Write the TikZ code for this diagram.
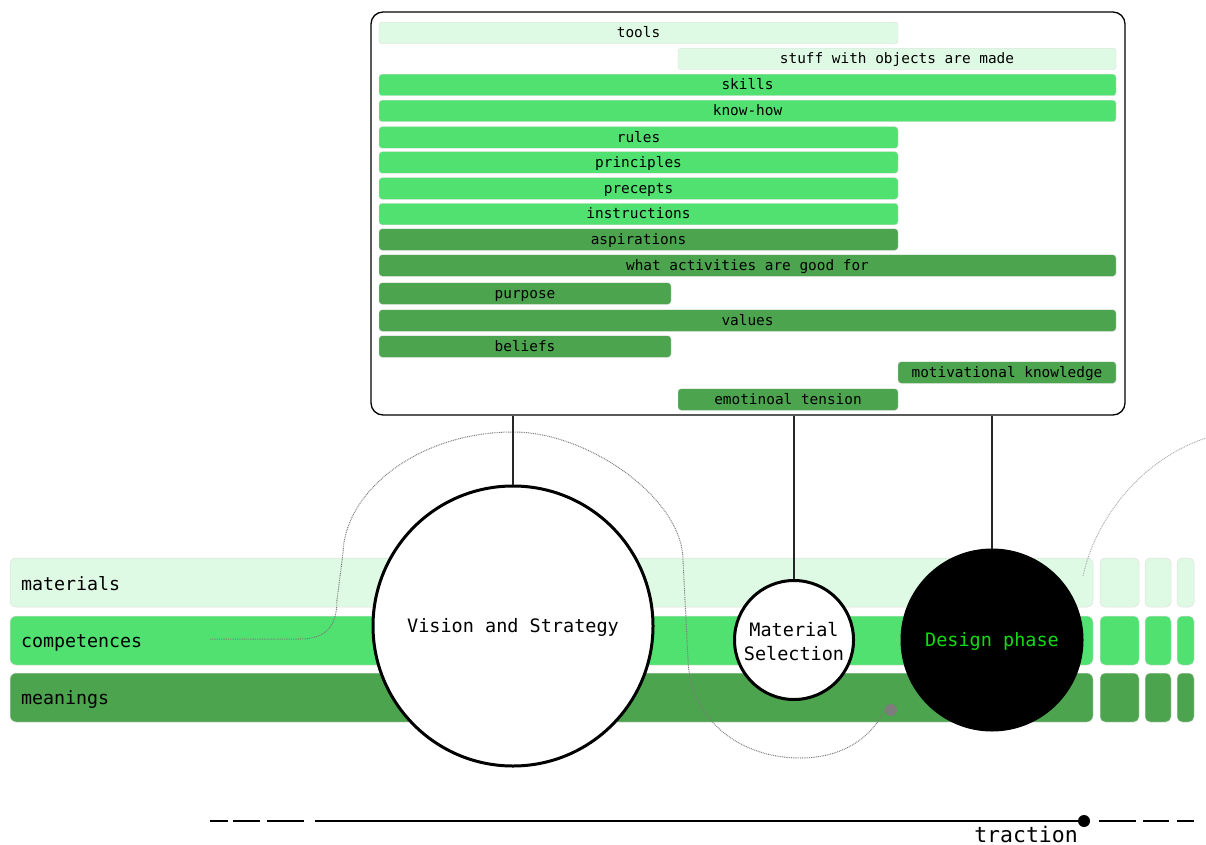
\documentclass[tikz,border=0pt]{standalone}
\usepackage{fontspec}
\newfontfamily\mono{DejaVu Sans Mono}
\definecolor{mlight}{RGB}{223,250,228}
\definecolor{mmid}{RGB}{80,225,112}
\definecolor{mdark}{RGB}{76,164,78}
\definecolor{dgreen}{RGB}{20,218,20}
\definecolor{curvegray}{RGB}{125,125,125}
\newcommand{\lowstrut}[1]{\rule{0pt}{#1}}
\begin{document}
\begin{tikzpicture}[x=1pt,y=-1pt,
  panel/.style={draw=black, line width=1.3pt, rounded corners=12pt, inner sep=0pt},
  tag/.style={rounded corners=3pt, draw=black!14, line width=0.4pt, inner sep=0pt,
    minimum height=21.5pt, font=\mono\fontsize{14.4}{16}\selectfont,
    text height=10.5pt, text depth=1pt},
  tlight/.style={tag, fill=mlight},
  tmid/.style={tag, fill=mmid},
  tdark/.style={tag, fill=mdark},
  layer/.style={rounded corners=6pt, draw=black!12, line width=0.5pt, inner ysep=0pt,
    inner xsep=11pt, minimum height=49pt, align=left,
    font=\mono\fontsize{18.3}{20}\selectfont},
  cell/.style={rounded corners=5pt, draw=black!12, line width=0.5pt, inner sep=0pt,
    minimum height=49pt},
  phase/.style={circle, draw=black, line width=3pt, fill=white, inner sep=0pt,
    font=\mono\fontsize{18.5}{24}\selectfont},
  oneline/.style={text height=14pt, text depth=2pt},
  link/.style={draw=black!85, line width=1.4pt},
  trail/.style={draw=curvegray, line width=1pt, dash pattern=on 0.9pt off 0.9pt},
  axis/.style={draw=black, line width=2.6pt},
  axisdot/.style={circle, fill=black, inner sep=0pt, minimum size=12pt}
]
\useasboundingbox (0,0) rectangle (1206,845);

% ---- knowledge panel ----
\node[panel, minimum width=754pt, minimum height=403pt] (panel) at (748,213.5) {};

\node[tlight, minimum width=519pt] (tools)        at (638.5,33)   {tools};
\node[tlight, minimum width=438pt] (stuff)        at (897,59)     {stuff with objects are made};
\node[tmid,   minimum width=737pt] (skills)       at (747.5,85)   {skills};
\node[tmid,   minimum width=737pt] (knowhow)      at (747.5,111)  {know-how};
\node[tmid,   minimum width=519pt] (rules)        at (638.5,137.5){rules};
\node[tmid,   minimum width=519pt] (principles)   at (638.5,162.5){principles};
\node[tmid,   minimum width=519pt] (precepts)     at (638.5,188.5){precepts};
\node[tmid,   minimum width=519pt] (instructions) at (638.5,214)  {instructions};
\node[tdark,  minimum width=519pt] (aspirations)  at (638.5,239.5){aspirations};
\node[tdark,  minimum width=737pt] (activities)   at (747.5,265.5){what activities are good for};
\node[tdark,  minimum width=292pt] (purpose)      at (525,293.5)  {purpose};
\node[tdark,  minimum width=737pt] (values)       at (747.5,320.5){values};
\node[tdark,  minimum width=292pt] (beliefs)      at (525,346.5)  {beliefs};
\node[tdark,  minimum width=218pt] (motivational) at (1007,372.5) {motivational knowledge};
\node[tdark,  minimum width=220pt] (tension)      at (788,399.5)  {emotinoal tension};

% ---- layers ----
\node[layer, fill=mlight, text width=1061pt] (materials)   at (551.5,582.5) {\lowstrut{17pt}materials};
\node[layer, fill=mmid,   text width=1061pt] (competences) at (551.5,640.5) {\lowstrut{17pt}competences};
\node[layer, fill=mdark,  text width=1061pt] (meanings)    at (551.5,697.5) {\lowstrut{17pt}meanings};

\foreach \r/\c/\y in {a/mlight/582.5, b/mmid/640.5, c/mdark/697.5}{
  \node[cell, fill=\c, minimum width=39pt] (cell1\r) at (1119.5,\y) {};
  \node[cell, fill=\c, minimum width=26pt] (cell2\r) at (1158,\y) {};
  \node[cell, fill=\c, minimum width=17pt] (cell3\r) at (1185.5,\y) {};
}

% ---- dotted trails ----
\coordinate (trailstart) at (210,639);
\node[circle, fill=curvegray, inner sep=0pt, minimum size=12pt] (trailend) at (891,710) {};
\draw[trail] (trailstart) -- (300,639)
  .. controls (327,639) and (337,625) .. (337,600)
  -- (343,553)
  .. controls (345,490) and (420,432) .. (513,432)
  .. controls (590,432) and (683,500) .. (683,560)
  -- (688,660)
  .. controls (690,720) and (740,758) .. (800,758)
  .. controls (840,758) and (872,740) .. (trailend.north west);

\coordinate (arcstart) at (1083,576);
\coordinate (arcend) at (1206,438);
\draw[trail, draw=black!32] (arcstart) .. controls (1095,520) and (1140,460) .. (arcend);

% ---- phases ----
\node[phase, oneline, minimum size=280pt] (vision) at (513,626) {Vision and Strategy};
\node[phase, align=center, minimum size=119pt] (selection) at (794,640) {\lowstrut{18pt}Material\\Selection};
\node[phase, oneline, fill=black, minimum size=180pt, text=dgreen] (design) at (992,640) {Design phase};

\draw[link] (panel.south -| vision.north) -- (vision.north);
\draw[link] (panel.south -| selection.north) -- (selection.north);
\draw[link] (panel.south -| design.north) -- (design.north);

% ---- traction axis ----
\node[axisdot] (tdot) at (1084,821) {};
\coordinate (tstart) at (315,821);
\draw[axis] (tstart) -- (tdot.center);
\foreach \a/\b in {210/228, 233/260, 267/304, 1099/1136, 1143/1169, 1177/1194}
  \draw[axis] (\a,821) -- (\b,821);
\node[anchor=base east, inner sep=0pt, font=\mono\fontsize{21.5}{24}\selectfont] (traction) at (1078,842) {traction};
\end{tikzpicture}
\end{document}
